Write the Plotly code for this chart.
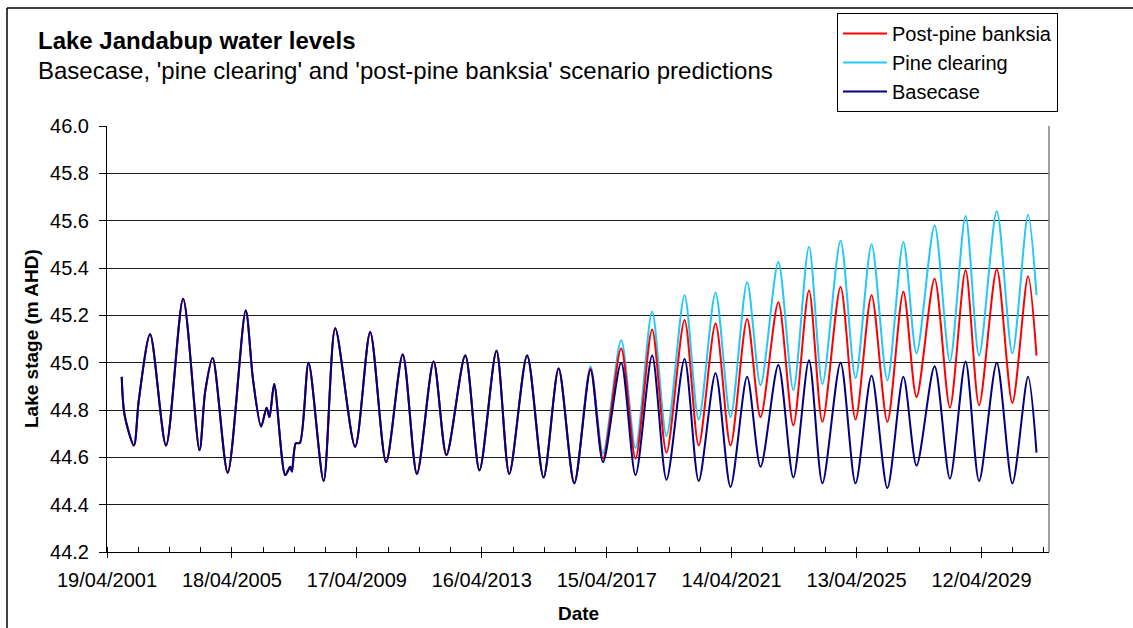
import plotly.graph_objects as go
import pandas as pd

# ---- data -------------------------------------------------------------
# Shared history (all scenarios identical up to 2016)
hist_dates = [
    "2001-10-08", "2001-11-10", "2002-02-28", "2002-04-25", "2002-09-05",
    "2003-03-10", "2003-09-26", "2004-04-04", "2004-06-10", "2004-09-05",
    "2005-02-28", "2005-09-26", "2005-12-20", "2006-03-25", "2006-05-28",
    "2006-07-01", "2006-08-25", "2007-01-01", "2007-02-28", "2007-03-20",
    "2007-05-05", "2007-06-20", "2007-10-01", "2008-03-25", "2008-08-07",
    "2009-03-28", "2009-09-20", "2010-03-25", "2010-10-05", "2011-03-20",
    "2011-10-01", "2012-02-28", "2012-10-05", "2013-03-20", "2013-10-05",
    "2014-03-03", "2014-09-28", "2015-04-08", "2015-10-01", "2016-04-01",
]
hist_levels = [
    44.94, 44.78, 44.65, 44.84, 45.12,
    44.65, 45.27, 44.63, 44.88, 45.02,
    44.535, 45.22, 44.93, 44.73, 44.81,
    44.77, 44.91, 44.525, 44.56, 44.54,
    44.66, 44.66, 45.00, 44.50, 45.145,
    44.645, 45.13, 44.58, 45.035, 44.53,
    45.005, 44.61, 45.03, 44.545, 45.05,
    44.53, 45.03, 44.515, 44.975, 44.49,
]

# Prediction period
pred_dates = [
    "2016-10-08", "2017-03-03", "2017-10-01", "2018-03-18", "2018-09-28",
    "2019-03-15", "2019-10-12", "2020-03-25", "2020-10-08", "2021-04-01",
    "2021-10-12", "2022-03-18", "2022-10-12", "2023-04-05", "2023-10-05",
    "2024-03-10", "2024-10-08", "2025-04-01", "2025-10-05", "2026-04-08",
    "2026-10-12", "2027-03-15", "2027-10-12", "2028-04-08", "2028-10-08",
    "2029-03-15", "2029-10-08", "2030-04-08", "2030-10-08", "2031-01-15",
]
basecase_pred = [
    44.97, 44.58, 45.00, 44.525, 45.03, 44.505, 45.015, 44.50, 44.955, 44.475,
    44.94, 44.56, 44.99, 44.515, 45.01, 44.49, 45.00, 44.49, 44.945, 44.47,
    44.94, 44.565, 44.985, 44.51, 45.005, 44.50, 45.00, 44.49, 44.94, 44.62,
]
pine_clearing_pred = [
    44.985, 44.617, 45.095, 44.64, 45.215, 44.69, 45.285, 44.76, 45.295, 44.77,
    45.34, 44.905, 45.425, 44.885, 45.49, 44.91, 45.515, 44.935, 45.50, 44.925,
    45.51, 45.04, 45.58, 45.005, 45.62, 45.03, 45.64, 45.04, 45.625, 45.285,
]
post_pine_banksia_pred = [
    44.975, 44.595, 45.06, 44.595, 45.14, 44.62, 45.18, 44.65, 45.165, 44.65,
    45.185, 44.77, 45.255, 44.735, 45.305, 44.75, 45.32, 44.76, 45.285, 44.75,
    45.30, 44.855, 45.355, 44.81, 45.39, 44.82, 45.395, 44.83, 45.365, 45.03,
]

dates = hist_dates + pred_dates
basecase = hist_levels + basecase_pred
pine_clearing = hist_levels + pine_clearing_pred
post_pine_banksia = hist_levels + post_pine_banksia_pred

# Axis ticks
x_tick_dates = ["2001-04-19", "2005-04-18", "2009-04-17", "2013-04-16",
                "2017-04-15", "2021-04-14", "2025-04-13", "2029-04-12"]
x_tick_labels = ["19/04/2001", "18/04/2005", "17/04/2009", "16/04/2013",
                 "15/04/2017", "14/04/2021", "13/04/2025", "12/04/2029"]
y_ticks = [44.2, 44.4, 44.6, 44.8, 45.0, 45.2, 45.4, 45.6, 45.8, 46.0]
y_tick_labels = ["44.2", "44.4", "44.6", "44.8", "45.0", "45.2", "45.4", "45.6", "45.8", "46.0"]

minor_ticks = [d.strftime("%Y-%m-%d") for d in
               pd.date_range("2001-04-19", "2031-06-01", freq="365D")]

FONT = "Arial, 'Liberation Sans', sans-serif"

# ---- figure -----------------------------------------------------------
fig = go.Figure()
series = [
    ("Pine clearing", pine_clearing, "#22C8F8", 2),
    ("Post-pine banksia", post_pine_banksia, "#FF0000", 1),
    ("Basecase", basecase, "#000080", 3),
]
for name, vals, color, rank in series:
    fig.add_trace(go.Scatter(
        x=dates, y=vals, mode="lines", name=name, legendrank=rank,
        line=dict(color=color, width=2, shape="spline", smoothing=0.8),
    ))

L, R, T, B = 107, 1049, 126, 552
W, H = 1133, 628
pw, ph = R - L, B - T

def px_x(x):
    return (x - L) / pw

def px_y(y):
    return (B - y) / ph

fig.update_layout(
    width=W, height=H,
    margin=dict(l=L, r=W - R, t=T, b=H - B, pad=0),
    paper_bgcolor="white", plot_bgcolor="white",
    font=dict(family=FONT, size=19, color="black"),
    showlegend=True,
    legend=dict(
        x=px_x(837), y=px_y(13), xanchor="left", yanchor="top",
        bgcolor="white", bordercolor="black", borderwidth=1,
        font=dict(family=FONT, size=20, color="black"),
        itemwidth=44, tracegroupgap=0,
    ),
    xaxis=dict(
        type="date", range=["2001-04-19", "2031-06-10"],
        tickmode="array", tickvals=x_tick_dates, ticktext=x_tick_labels,
        ticks="outside", ticklen=5, tickcolor="black", tickwidth=1,
        showline=True, linecolor="black", linewidth=1,
        showgrid=False, zeroline=False,
        tickfont=dict(family=FONT, size=20, color="black"),
        ticklabelstandoff=5,
        minor=dict(tickvals=minor_ticks, ticks="inside", ticklen=5,
                   tickcolor="black", showgrid=False),
    ),
    yaxis=dict(
        range=[44.2, 46.0], tickmode="array", tickvals=y_ticks, ticktext=y_tick_labels,
        ticks="outside", ticklen=7, tickcolor="black",
        showline=True, linecolor="black", linewidth=1,
        showgrid=True, gridcolor="#1a1a1a", gridwidth=1, zeroline=False,
        tickfont=dict(family=FONT, size=20, color="black"),
        ticklabelstandoff=6,
    ),
    shapes=[
        # plot area right edge
        dict(type="line", xref="paper", yref="paper", x0=1, x1=1, y0=0, y1=1,
             line=dict(color="#808080", width=1.5)),
        # chart frame (top and left)
        dict(type="line", xref="paper", yref="paper",
             x0=px_x(7), x1=px_x(W + 5), y0=px_y(8), y1=px_y(8),
             line=dict(color="black", width=1.5)),
        dict(type="line", xref="paper", yref="paper",
             x0=px_x(7), x1=px_x(7), y0=px_y(8), y1=px_y(H + 5),
             line=dict(color="black", width=1.5)),
    ],
    annotations=[
        dict(text="<b>Lake Jandabup water levels</b>", xref="paper", yref="paper",
             x=px_x(36), y=px_y(41), xanchor="left", yanchor="middle",
             showarrow=False, font=dict(family=FONT, size=24, color="black")),
        dict(text="Basecase, 'pine clearing' and 'post-pine banksia' scenario predictions",
             xref="paper", yref="paper",
             x=px_x(36), y=px_y(70), xanchor="left", yanchor="middle",
             showarrow=False, font=dict(family=FONT, size=24, color="black")),
        dict(text="<b>Lake stage (m AHD)</b>", xref="paper", yref="paper",
             x=px_x(31), y=0.5, xanchor="center", yanchor="middle", textangle=-90,
             showarrow=False, font=dict(family=FONT, size=19, color="black")),
        dict(text="<b>Date</b>", xref="paper", yref="paper",
             x=0.5, y=px_y(613), xanchor="center", yanchor="middle",
             showarrow=False, font=dict(family=FONT, size=19, color="black")),
    ],
)

fig.write_html("out.html")
